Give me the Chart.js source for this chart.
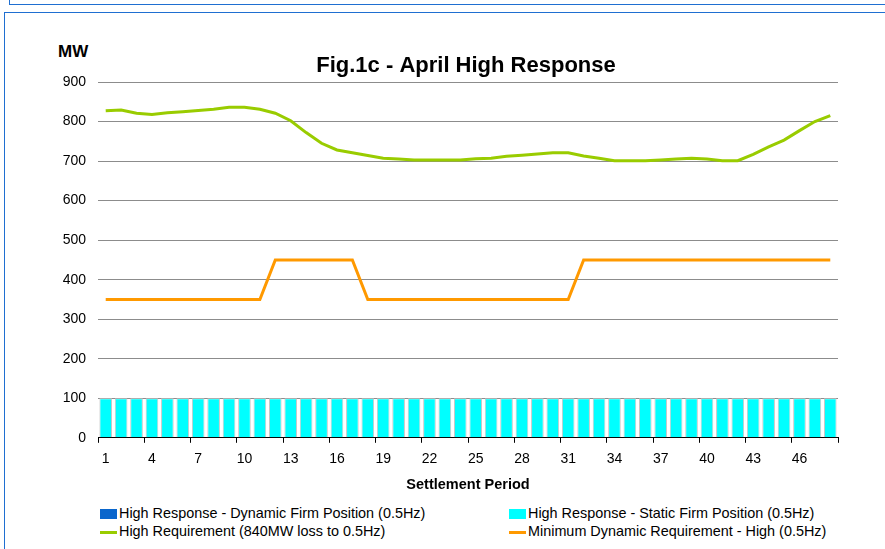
<!DOCTYPE html>
<html>
<head>
<meta charset="utf-8">
<script src="https://cdn.jsdelivr.net/npm/chart.js@4.4.1/dist/chart.umd.min.js"></script>
<style>
  body { margin: 0; background: #fff; font-family: 'Liberation Sans', Arial, sans-serif; overflow: hidden; }
  #topbox { position: absolute; left: 9px; top: -10px; width: 900px; height: 13px; border: 1.5px solid #1f6fd1; }
  #frame { position: absolute; left: 4px; top: 12px; width: 900px; height: 560px; border: 1.5px solid #1f6fd1; }
  #wrap { position: absolute; left: 50px; top: 40px; width: 832px; height: 458px; }
  #mw { position: absolute; left: 58px; top: 42px; font-weight: bold; font-size: 17px; color: #000; }
  .leg { position: absolute; font-size: 14.4px; color: #000; white-space: nowrap; }
  .sw { display: inline-block; vertical-align: middle; margin-right: 2px; }
</style>
</head>
<body>
<div id="topbox"></div>
<div id="frame"></div>
<div id="mw">MW</div>
<div id="wrap"><canvas id="chart1c"></canvas></div>
<div id="legend"></div>
<script>
const periods = [];
for (let i = 1; i <= 48; i++) periods.push(String(i));

const dynamicFirm = [0,0,0,0,0,0,0,0,0,0,0,0,0,0,0,0,0,0,0,0,0,0,0,0,
                     0,0,0,0,0,0,0,0,0,0,0,0,0,0,0,0,0,0,0,0,0,0,0,0];
const staticFirm = [100,100,100,100,100,100,100,100,100,100,100,100,100,100,100,100,
                    100,100,100,100,100,100,100,100,100,100,100,100,100,100,100,100,
                    100,100,100,100,100,100,100,100,100,100,100,100,100,100,100,100];
const highRequirement = [827,829,821,818,822,825,828,831,836,836,831,821,
                         802,772,745,728,721,714,707,705,703,703,703,703,
                         706,707,712,715,718,721,721,713,707,701,701,701,
                         703,705,707,705,701,701,717,736,753,777,800,815];
const minDynamic = [350,350,350,350,350,350,350,350,350,350,350,450,
                    450,450,450,450,450,350,350,350,350,350,350,350,
                    350,350,350,350,350,350,350,450,450,450,450,450,
                    450,450,450,450,450,450,450,450,450,450,450,450];

const chartTitle = 'Fig.1c - April High Response';
const seriesNames = [
  'High Response - Dynamic Firm Position (0.5Hz)',
  'High Response - Static Firm Position (0.5Hz)',
  'High Requirement (840MW loss to 0.5Hz)',
  'Minimum Dynamic Requirement - High (0.5Hz)'
];
const seriesColors = ['#0a66cc', '#00ffff', '#99cc00', '#ff9900'];
const fontFam = "'Liberation Sans', Arial, sans-serif";

// title centred over the plot area rather than the whole canvas
const plotTitle = {
  id: 'plotTitle',
  afterDraw(chart) {
    const c = chart.ctx;
    const a = chart.chartArea;
    c.save();
    c.font = 'bold 22px ' + fontFam;
    c.fillStyle = '#000';
    c.textAlign = 'center';
    c.textBaseline = 'middle';
    c.fillText(chartTitle, (a.left + a.right) / 2 - 2, 26);
    c.restore();
  }
};

const ctx = document.getElementById('chart1c').getContext('2d');
const chart1c = new Chart(ctx, {
  data: {
    labels: periods,
    datasets: [
      {
        type: 'line',
        label: seriesNames[2],
        data: highRequirement,
        borderColor: seriesColors[2],
        borderWidth: 3,
        pointRadius: 0,
        tension: 0,
        stack: 'req',
        order: 1
      },
      {
        type: 'line',
        label: seriesNames[3],
        data: minDynamic,
        borderColor: seriesColors[3],
        borderWidth: 3,
        pointRadius: 0,
        tension: 0,
        stack: 'min',
        order: 1
      },
      {
        type: 'bar',
        label: seriesNames[0],
        data: dynamicFirm,
        backgroundColor: seriesColors[0],
        stack: 'firm',
        order: 2
      },
      {
        type: 'bar',
        label: seriesNames[1],
        data: staticFirm,
        backgroundColor: seriesColors[1],
        borderColor: '#c8c8c8',
        borderWidth: 1,
        barPercentage: 0.82,
        categoryPercentage: 1,
        stack: 'firm',
        order: 2
      }
    ]
  },
  options: {
    responsive: true,
    maintainAspectRatio: false,
    animation: false,
    layout: { padding: { top: 42, right: 44, bottom: 0 } },
    plugins: {
      legend: { display: false },
      tooltip: { enabled: false },
      title: { display: false }
    },
    scales: {
      x: {
        stacked: true,
        offset: true,
        grid: {
          offset: true,
          drawOnChartArea: false,
          drawTicks: true,
          tickLength: 5,
          color: (c) => (c.index === undefined || c.index % 3 === 0) ? '#000' : 'rgba(0,0,0,0)'
        },
        border: { color: '#000', width: 1 },
        ticks: {
          autoSkip: false,
          maxRotation: 0,
          color: '#000',
          padding: 8,
          font: { family: fontFam, size: 14 },
          callback: function(value, index) { return index % 3 === 0 ? periods[index] : ''; }
        },
        title: {
          display: true,
          text: 'Settlement Period',
          color: '#000',
          font: { family: fontFam, size: 14.5, weight: 'bold' },
          padding: { top: 1 }
        }
      },
      y: {
        stacked: true,
        min: 0,
        max: 900,
        afterFit: (s) => { s.width = 48; },
        grid: { color: '#8c8c8c', drawTicks: false, lineWidth: 1 },
        border: { display: false },
        ticks: {
          stepSize: 100,
          color: '#000',
          padding: 12,
          font: { family: fontFam, size: 14 }
        }
      }
    }
  },
  plugins: [plotTitle]
});

// legend in two columns below the chart
const legendPos = [
  { left: 100, top: 505, kind: 'box' },
  { left: 509, top: 505, kind: 'box' },
  { left: 100, top: 523, kind: 'line' },
  { left: 509, top: 523, kind: 'line' }
];
const legendDiv = document.getElementById('legend');
legendPos.forEach(function(p, k) {
  const item = document.createElement('div');
  item.className = 'leg';
  item.style.left = p.left + 'px';
  item.style.top = p.top + 'px';
  const sw = document.createElement('span');
  sw.className = 'sw';
  sw.style.width = '17px';
  sw.style.height = p.kind === 'box' ? '10px' : '3px';
  sw.style.background = seriesColors[k];
  item.appendChild(sw);
  item.appendChild(document.createTextNode(seriesNames[k]));
  legendDiv.appendChild(item);
});
</script>
</body>
</html>
